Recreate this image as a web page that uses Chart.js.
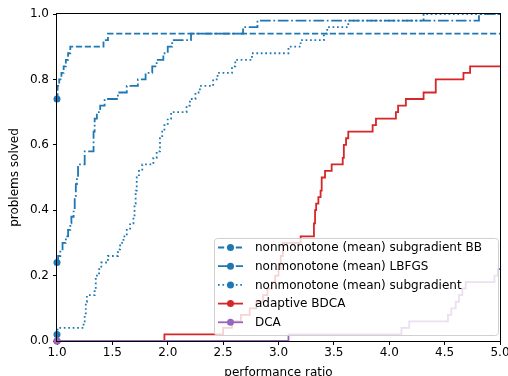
<!DOCTYPE html>
<html>
<head>
<meta charset="utf-8">
<script src="https://cdn.jsdelivr.net/npm/chart.js@4"></script>
<style>
  html, body { margin: 0; padding: 0; background: #fff; }
</style>
</head>
<body>
<canvas id="chart" width="508" height="376"></canvas>
<script>
// Performance profile: ratio -> fraction of problems solved (step functions)
const bbRatio  = [1.0, 1.005, 1.02, 1.04, 1.06, 1.08, 1.10, 1.12, 1.42, 1.46, 5.0];
const bbSolved = [0.74, 0.78, 0.80, 0.82, 0.84, 0.86, 0.88, 0.90, 0.92, 0.94, 0.94];

const lbfgsRatio  = [1.0, 1.01, 1.03, 1.05, 1.08, 1.10, 1.12, 1.13, 1.15, 1.16, 1.17, 1.18, 1.19, 1.25, 1.33, 1.34, 1.36, 1.39, 1.43, 1.55, 1.63, 1.73, 1.80, 1.86, 1.90, 1.96, 2.00, 2.04, 2.21, 2.68, 2.81, 4.81, 5.0];
const lbfgsSolved = [0.24, 0.26, 0.28, 0.30, 0.32, 0.34, 0.36, 0.38, 0.40, 0.44, 0.48, 0.50, 0.54, 0.58, 0.64, 0.68, 0.70, 0.72, 0.74, 0.76, 0.78, 0.80, 0.82, 0.84, 0.86, 0.88, 0.90, 0.92, 0.94, 0.96, 0.98, 1.0, 1.0];

const subRatio  = [1.0, 1.005, 1.24, 1.25, 1.26, 1.27, 1.34, 1.35, 1.38, 1.40, 1.46, 1.55, 1.57, 1.60, 1.63, 1.66, 1.69, 1.70, 1.71, 1.72, 1.74, 1.77, 1.87, 1.90, 1.93, 1.95, 1.97, 2.00, 2.03, 2.17, 2.20, 2.25, 2.29, 2.41, 2.45, 2.58, 2.61, 2.76, 3.09, 3.20, 3.41, 3.44, 3.63, 4.31, 5.0];
const subSolved = [0.02, 0.04, 0.06, 0.08, 0.12, 0.14, 0.16, 0.20, 0.22, 0.24, 0.26, 0.28, 0.30, 0.32, 0.34, 0.36, 0.38, 0.42, 0.46, 0.50, 0.52, 0.54, 0.56, 0.58, 0.62, 0.64, 0.66, 0.68, 0.70, 0.72, 0.74, 0.76, 0.78, 0.80, 0.82, 0.84, 0.86, 0.88, 0.90, 0.92, 0.94, 0.96, 0.98, 1.0, 1.0];

const bdcaRatio  = [1.0, 1.97, 2.50, 2.58, 2.66, 2.74, 2.80, 2.86, 2.90, 2.94, 2.97, 3.00, 3.02, 3.04, 3.20, 3.32, 3.33, 3.34, 3.36, 3.38, 3.39, 3.42, 3.48, 3.58, 3.59, 3.61, 3.63, 3.85, 3.88, 4.06, 4.08, 4.15, 4.31, 4.42, 4.67, 4.73, 5.0];
const bdcaSolved = [0.0, 0.02, 0.04, 0.06, 0.08, 0.10, 0.12, 0.14, 0.16, 0.18, 0.20, 0.22, 0.26, 0.30, 0.32, 0.36, 0.40, 0.42, 0.44, 0.46, 0.50, 0.52, 0.54, 0.56, 0.60, 0.62, 0.64, 0.66, 0.68, 0.70, 0.72, 0.74, 0.76, 0.80, 0.82, 0.84, 0.84];

const dcaRatio  = [1.0, 3.09, 4.11, 4.18, 4.53, 4.56, 4.60, 4.63, 4.66, 4.69, 4.95, 4.98, 5.0];
const dcaSolved = [0.0, 0.02, 0.04, 0.06, 0.08, 0.10, 0.12, 0.14, 0.16, 0.18, 0.20, 0.22, 0.22];

const seriesNames = [
    "nonmonotone (mean) subgradient BB",
    "nonmonotone (mean) LBFGS",
    "nonmonotone (mean) subgradient",
    "adaptive BDCA",
    "DCA"
];
const xTicks = [1.0, 1.5, 2.0, 2.5, 3.0, 3.5, 4.0, 4.5, 5.0];
const yTicks = [0.0, 0.2, 0.4, 0.6, 0.8, 1.0];

const FONT = '"DejaVu Sans", "Liberation Sans", sans-serif';

function toPoints(xs, ys) {
    return xs.map((x, i) => ({ x: x, y: ys[i] }));
}

function makeSeries(i, xs, ys, color, dash) {
    return {
        label: seriesNames[i],
        data: toPoints(xs, ys),
        borderColor: color,
        backgroundColor: color,
        borderWidth: 1.8,
        borderDash: dash,
        stepped: 'before',
        fill: false,
        clip: false,
        order: 4 - i, // later series on top, like matplotlib
        pointRadius: (c) => c.dataIndex === 0 ? 3.5 : 0,
        pointBorderWidth: 0,
        pointHoverRadius: 0
    };
}

// legend drawn inside the plot, lower right, semi-transparent frame
const boxLegend = {
    id: 'boxLegend',
    afterDatasetsDraw(chart) {
        const ctx = chart.ctx;
        const a = chart.chartArea;
        const w = 284, h = 97;
        const left = a.right - 2 - w;
        const top = a.bottom - 6 - h;
        ctx.save();
        ctx.beginPath();
        ctx.roundRect(left + 0.5, top + 0.5, w, h, 3);
        ctx.fillStyle = 'rgba(255,255,255,0.8)';
        ctx.fill();
        ctx.strokeStyle = '#d0d0d0';
        ctx.lineWidth = 1;
        ctx.stroke();

        chart.data.datasets.forEach((ds, i) => {
            const cy = top + 9.5 + i * 18.7;
            ctx.setLineDash(ds.borderDash || []);
            ctx.lineDashOffset = 0;
            ctx.strokeStyle = ds.borderColor;
            ctx.lineWidth = ds.borderWidth;
            ctx.beginPath();
            ctx.moveTo(left + 4, cy);
            ctx.lineTo(left + 29, cy);
            ctx.stroke();
            ctx.setLineDash([]);
            ctx.beginPath();
            ctx.arc(left + 16.5, cy, 3.5, 0, Math.PI * 2);
            ctx.fillStyle = ds.borderColor;
            ctx.fill();

            ctx.fillStyle = '#000';
            ctx.font = '12px ' + FONT;
            ctx.textAlign = 'left';
            ctx.textBaseline = 'middle';
            ctx.fillText(ds.label, left + 41, cy + 0.5);
        });
        ctx.restore();
    },
    afterDraw(chart) {
        const ctx = chart.ctx;
        const a = chart.chartArea;
        ctx.save();
        ctx.strokeStyle = '#000';
        ctx.lineWidth = 1;
        ctx.strokeRect(Math.round(a.left) - 0.5, Math.round(a.top) - 0.5,
                       Math.round(a.right - a.left) + 1, Math.round(a.bottom - a.top) + 1);
        ctx.restore();
    }
};

Chart.defaults.font.family = FONT;
Chart.defaults.font.size = 12;
Chart.defaults.color = '#000';

new Chart(document.getElementById('chart'), {
    type: 'line',
    data: {
        datasets: [
            makeSeries(0, bbRatio, bbSolved, '#1f77b4', [6.2, 2.7]),
            makeSeries(1, lbfgsRatio, lbfgsSolved, '#1f77b4', [10.7, 2.7, 1.7, 2.7]),
            makeSeries(2, subRatio, subSolved, '#1f77b4', [1.7, 2.75]),
            makeSeries(3, bdcaRatio, bdcaSolved, '#d62728', []),
            makeSeries(4, dcaRatio, dcaSolved, '#9467bd', [])
        ]
    },
    options: {
        responsive: false,
        animation: false,
        events: [],
        layout: { padding: { left: 0, top: 14, right: 8, bottom: 0 } },
        plugins: {
            legend: { display: false },
            tooltip: { enabled: false }
        },
        scales: {
            x: {
                type: 'linear',
                min: 1.0,
                max: 5.0,
                afterBuildTicks: (s) => { s.ticks = xTicks.map(v => ({ value: v })); },
                afterFit: (s) => { s.height = 35; s.paddingLeft = 0; s.paddingRight = 0; },
                ticks: {
                    padding: 1,
                    maxRotation: 0,
                    autoSkip: false,
                    callback: (v) => Number(v).toFixed(1)
                },
                grid: { drawOnChartArea: false, drawTicks: true, tickLength: 4, color: '#000', lineWidth: 1 },
                border: { display: false },
                title: {
                    display: true,
                    text: 'performance ratio',
                    padding: { top: 0, bottom: -4 },
                    font: { size: 12 }
                }
            },
            y: {
                type: 'linear',
                min: 0,
                max: 1.0,
                afterBuildTicks: (s) => { s.ticks = yTicks.map(v => ({ value: v })); },
                afterFit: (s) => { s.width = 57; s.paddingTop = 0; s.paddingBottom = 0; },
                ticks: {
                    padding: 4,
                    autoSkip: false,
                    callback: (v) => Number(v).toFixed(1)
                },
                grid: { drawOnChartArea: false, drawTicks: true, tickLength: 4, color: '#000', lineWidth: 1 },
                border: { display: false },
                title: {
                    display: true,
                    text: 'problems solved',
                    padding: { top: 8, bottom: 0 },
                    font: { size: 12 }
                }
            }
        }
    },
    plugins: [boxLegend]
});
</script>
</body>
</html>
